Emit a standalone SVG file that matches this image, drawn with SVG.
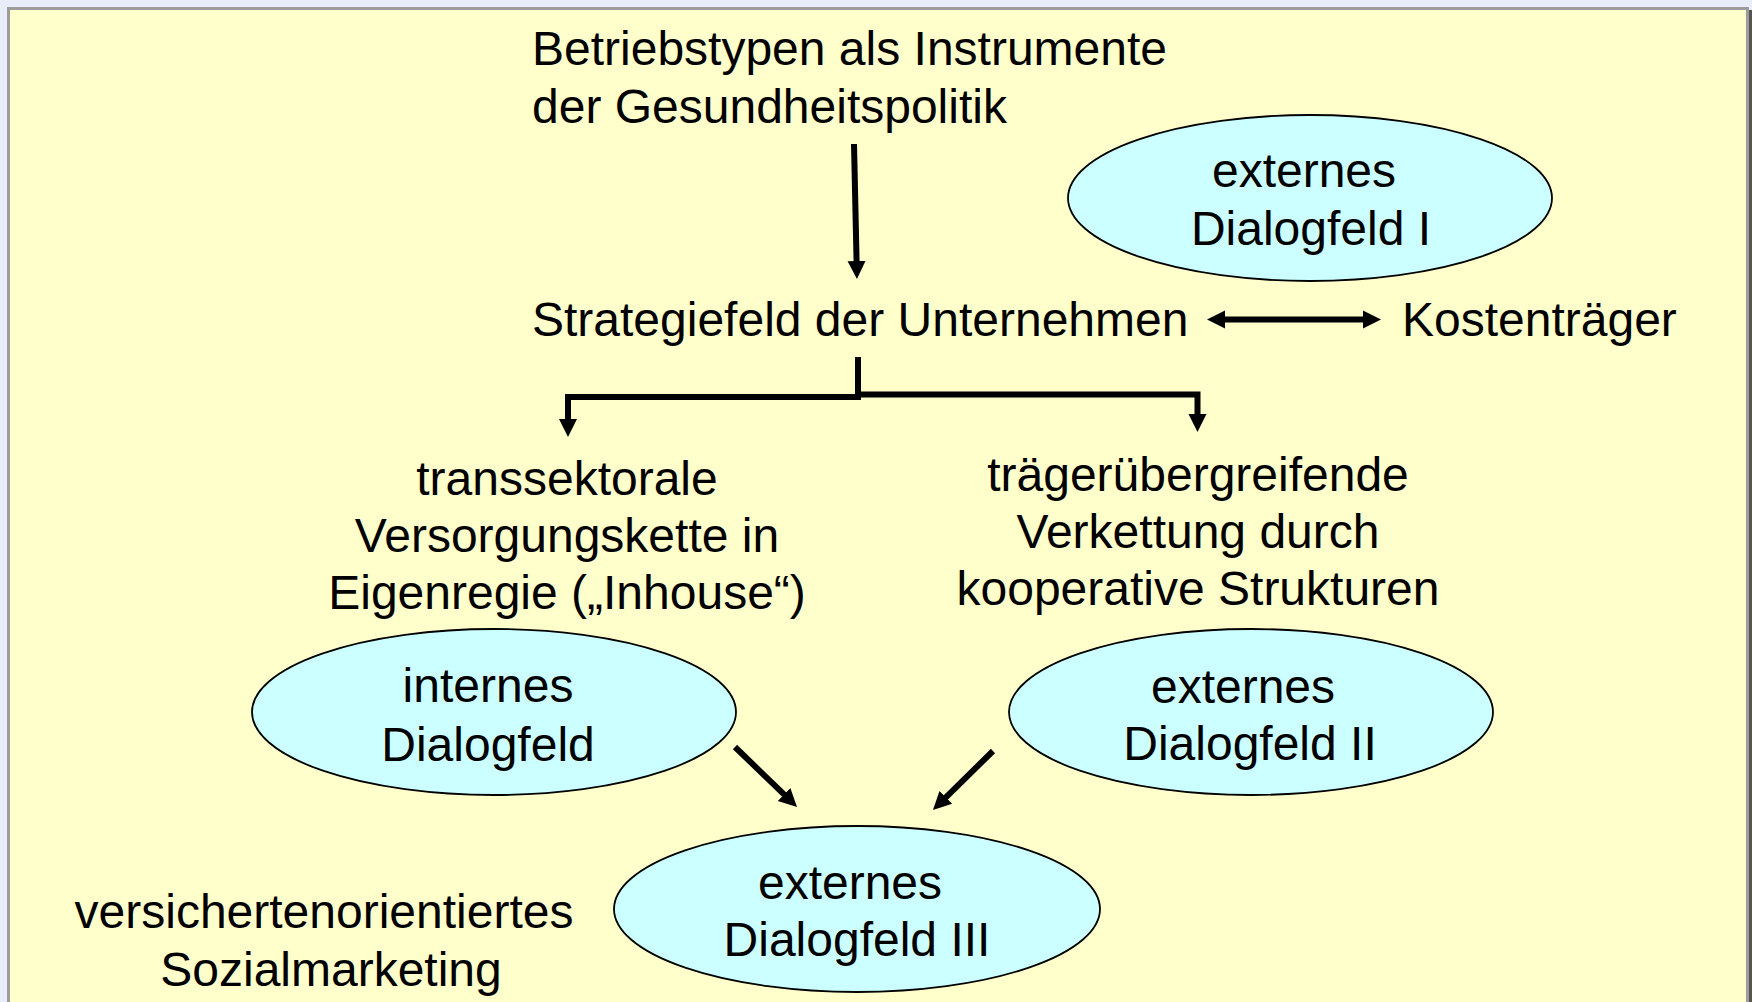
<svg xmlns="http://www.w3.org/2000/svg" width="1752" height="1002" viewBox="0 0 1752 1002">
  <style>
    .t { font-family: "Liberation Sans", Arial, sans-serif; font-size: 48px; fill: #000; }
    .m { text-anchor: middle; }
    .ell { fill: #ccffff; stroke: #000; stroke-width: 1.8; }
    .con { fill: none; stroke: #000; stroke-width: 6; stroke-linejoin: miter; }
  </style>
  <defs>
    <marker id="ah" markerUnits="userSpaceOnUse" markerWidth="20" markerHeight="20" refX="1" refY="9" orient="auto-start-reverse" viewBox="0 0 20 18">
      <path d="M0,0 L18,9 L0,18 Z" fill="#000"/>
    </marker>
  </defs>

  <rect x="0" y="0" width="1752" height="1002" fill="#e9edf9"/>
  <rect x="1748" y="10" width="4" height="992" fill="#555"/>
  <rect x="8.5" y="8.5" width="1739" height="1000" fill="#ffffcc" stroke="#9c9c9c" stroke-width="3"/>

  <g id="title">
    <text class="t" x="532" y="65">Betriebstypen als Instrumente</text>
    <text class="t" x="532" y="123">der Gesundheitspolitik</text>
  </g>

  <g id="dialog1">
    <ellipse class="ell" cx="1310" cy="198" rx="242" ry="83"/>
    <text class="t m" x="1304" y="187">externes</text>
    <text class="t m" x="1311" y="245">Dialogfeld I</text>
  </g>

  <g id="strategie">
    <text class="t" x="532" y="336">Strategiefeld der Unternehmen</text>
  </g>

  <g id="kosten">
    <text class="t" x="1402" y="336">Kostenträger</text>
  </g>

  <g id="transsektoral">
    <text class="t m" x="567" y="495">transsektorale</text>
    <text class="t m" x="567" y="552">Versorgungskette in</text>
    <text class="t m" x="567" y="609">Eigenregie („Inhouse“)</text>
  </g>

  <g id="traeger">
    <text class="t m" x="1198" y="491">trägerübergreifende</text>
    <text class="t m" x="1198" y="548">Verkettung durch</text>
    <text class="t m" x="1198" y="605">kooperative Strukturen</text>
  </g>

  <g id="internes">
    <ellipse class="ell" cx="494" cy="712" rx="242" ry="83"/>
    <text class="t m" x="488" y="702">internes</text>
    <text class="t m" x="488" y="761">Dialogfeld</text>
  </g>

  <g id="dialog2">
    <ellipse class="ell" cx="1251" cy="712" rx="242" ry="83"/>
    <text class="t m" x="1243" y="703">externes</text>
    <text class="t m" x="1250" y="760">Dialogfeld II</text>
  </g>

  <g id="dialog3">
    <ellipse class="ell" cx="857" cy="909" rx="243" ry="83"/>
    <text class="t m" x="850" y="899">externes</text>
    <text class="t m" x="857" y="956">Dialogfeld III</text>
  </g>

  <g id="sozialmarketing">
    <text class="t m" x="324" y="928">versichertenorientiertes</text>
    <text class="t m" x="331" y="986">Sozialmarketing</text>
  </g>

  <g id="connectors">
    <line class="con" x1="854" y1="144" x2="856.6" y2="262" marker-end="url(#ah)"/>
    <line class="con" x1="1224" y1="319.5" x2="1364" y2="319.5" marker-start="url(#ah)" marker-end="url(#ah)"/>
    <line class="con" x1="858" y1="357" x2="858" y2="400"/>
    <polyline class="con" points="858,397 568,397 568,420" marker-end="url(#ah)"/>
    <polyline class="con" points="858,394.5 1197.5,394.5 1197.5,415" marker-end="url(#ah)"/>
    <line class="con" x1="735" y1="747" x2="784.8" y2="795.2" marker-end="url(#ah)"/>
    <line class="con" x1="993" y1="751" x2="945.1" y2="798.1" marker-end="url(#ah)"/>
  </g>
</svg>
